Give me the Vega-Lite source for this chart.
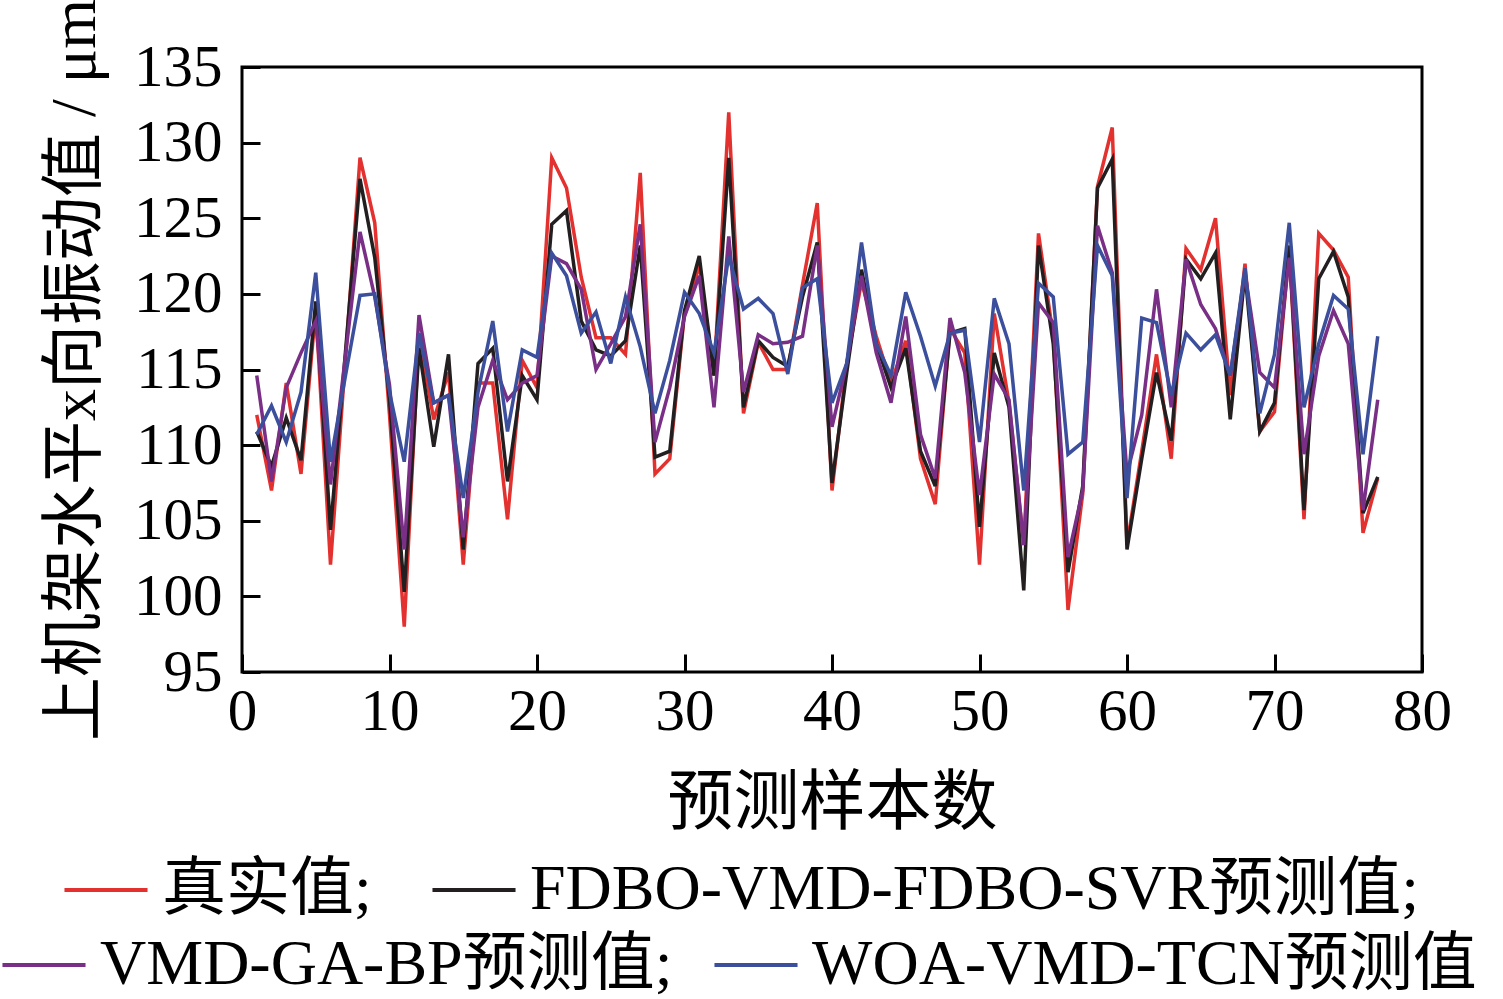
{
  "$schema": "https://vega.github.io/schema/vega-lite/v6.json",
  "autosize": "none",
  "padding": {"left": 242, "top": 67, "right": 81, "bottom": 327},
  "width": 1180,
  "height": 605,
  "data": {
    "values": [
      {"x": 1, "r": 112.0, "k": 110.9, "p": 114.6, "b": 110.7},
      {"x": 2, "r": 107.0, "k": 108.6, "p": 107.6, "b": 112.6},
      {"x": 3, "r": 114.1, "k": 111.8, "p": 113.8, "b": 110.2},
      {"x": 4, "r": 108.1, "k": 109.0, "p": 116.1, "b": 113.5},
      {"x": 5, "r": 119.0, "k": 119.5, "p": 118.2, "b": 121.4},
      {"x": 6, "r": 102.1, "k": 104.4, "p": 107.4, "b": 108.9},
      {"x": 7, "r": 115.5, "k": 116.0, "p": 115.8, "b": 114.5},
      {"x": 8, "r": 129.0, "k": 127.6, "p": 124.1, "b": 119.9},
      {"x": 9, "r": 124.7, "k": 122.4, "p": 119.8, "b": 120.0},
      {"x": 10, "r": 112.0, "k": 113.0, "p": 114.0, "b": 113.5},
      {"x": 11, "r": 98.0, "k": 100.3, "p": 103.1, "b": 108.9},
      {"x": 12, "r": 117.2, "k": 116.4, "p": 118.6, "b": 117.4},
      {"x": 13, "r": 111.7, "k": 109.9, "p": 112.8, "b": 112.8},
      {"x": 14, "r": 114.8, "k": 116.0, "p": 113.3, "b": 113.3},
      {"x": 15, "r": 102.1, "k": 103.1, "p": 103.9, "b": 106.5},
      {"x": 16, "r": 114.1, "k": 115.4, "p": 112.5, "b": 113.5},
      {"x": 17, "r": 114.1, "k": 116.4, "p": 115.6, "b": 118.2},
      {"x": 18, "r": 105.1, "k": 107.6, "p": 113.0, "b": 110.9},
      {"x": 19, "r": 115.6, "k": 114.6, "p": 114.1, "b": 116.3},
      {"x": 20, "r": 113.8, "k": 113.0, "p": 114.6, "b": 115.8},
      {"x": 21, "r": 129.0, "k": 124.6, "p": 122.5, "b": 122.7},
      {"x": 22, "r": 127.0, "k": 125.5, "p": 122.0, "b": 121.2},
      {"x": 23, "r": 121.1, "k": 118.2, "p": 120.3, "b": 117.4},
      {"x": 24, "r": 117.1, "k": 116.3, "p": 115.0, "b": 118.8},
      {"x": 25, "r": 117.1, "k": 115.9, "p": 116.7, "b": 115.4},
      {"x": 26, "r": 116.0, "k": 116.9, "p": 118.5, "b": 119.8},
      {"x": 27, "r": 128.0, "k": 123.2, "p": 124.6, "b": 116.5},
      {"x": 28, "r": 108.1, "k": 109.2, "p": 110.2, "b": 112.1},
      {"x": 29, "r": 109.1, "k": 109.6, "p": 113.8, "b": 115.6},
      {"x": 30, "r": 118.7, "k": 118.9, "p": 118.5, "b": 120.1},
      {"x": 31, "r": 121.9, "k": 122.5, "p": 121.2, "b": 118.7},
      {"x": 32, "r": 114.6, "k": 114.6, "p": 112.5, "b": 116.1},
      {"x": 33, "r": 132.0, "k": 129.0, "p": 123.8, "b": 122.5},
      {"x": 34, "r": 112.1, "k": 112.5, "p": 113.5, "b": 119.0},
      {"x": 35, "r": 116.8, "k": 116.9, "p": 117.3, "b": 119.7},
      {"x": 36, "r": 115.0, "k": 115.8, "p": 116.7, "b": 118.7},
      {"x": 37, "r": 115.0, "k": 115.2, "p": 116.8, "b": 114.7},
      {"x": 38, "r": 120.6, "k": 119.8, "p": 117.2, "b": 120.4},
      {"x": 39, "r": 126.0, "k": 123.4, "p": 123.2, "b": 121.0},
      {"x": 40, "r": 107.0, "k": 107.5, "p": 111.2, "b": 112.8},
      {"x": 41, "r": 115.4, "k": 114.8, "p": 115.4, "b": 115.4},
      {"x": 42, "r": 120.8, "k": 121.6, "p": 121.2, "b": 123.4},
      {"x": 43, "r": 117.2, "k": 116.7, "p": 116.1, "b": 116.7},
      {"x": 44, "r": 114.1, "k": 113.8, "p": 112.8, "b": 114.6},
      {"x": 45, "r": 116.9, "k": 116.4, "p": 118.5, "b": 120.1},
      {"x": 46, "r": 109.1, "k": 109.6, "p": 110.7, "b": 117.2},
      {"x": 47, "r": 106.1, "k": 107.3, "p": 107.8, "b": 113.9},
      {"x": 48, "r": 117.7, "k": 117.4, "p": 118.4, "b": 117.4},
      {"x": 49, "r": 116.1, "k": 117.7, "p": 114.8, "b": 117.6},
      {"x": 50, "r": 102.1, "k": 104.6, "p": 106.7, "b": 110.2},
      {"x": 51, "r": 118.7, "k": 116.1, "p": 114.7, "b": 119.7},
      {"x": 52, "r": 112.8, "k": 112.5, "p": 113.0, "b": 116.7},
      {"x": 53, "r": 103.4, "k": 100.4, "p": 103.4, "b": 107.0},
      {"x": 54, "r": 124.0, "k": 123.2, "p": 119.4, "b": 120.7},
      {"x": 55, "r": 117.2, "k": 116.7, "p": 118.1, "b": 119.8},
      {"x": 56, "r": 99.1, "k": 101.6, "p": 102.6, "b": 109.4},
      {"x": 57, "r": 106.8, "k": 107.3, "p": 107.0, "b": 110.2},
      {"x": 58, "r": 127.1, "k": 127.0, "p": 124.5, "b": 123.2},
      {"x": 59, "r": 131.0, "k": 128.9, "p": 121.4, "b": 121.2},
      {"x": 60, "r": 103.4, "k": 103.1, "p": 108.1, "b": 106.5},
      {"x": 61, "r": 109.6, "k": 109.1, "p": 112.0, "b": 118.4},
      {"x": 62, "r": 116.0, "k": 114.8, "p": 120.3, "b": 118.1},
      {"x": 63, "r": 109.1, "k": 110.3, "p": 112.5, "b": 113.3},
      {"x": 64, "r": 123.0, "k": 122.3, "p": 122.3, "b": 117.4},
      {"x": 65, "r": 121.6, "k": 121.0, "p": 119.3, "b": 116.3},
      {"x": 66, "r": 125.0, "k": 122.7, "p": 117.7, "b": 117.3},
      {"x": 67, "r": 113.3, "k": 111.7, "p": 114.6, "b": 114.6},
      {"x": 68, "r": 122.0, "k": 121.4, "p": 121.4, "b": 121.7},
      {"x": 69, "r": 110.9, "k": 110.9, "p": 114.8, "b": 112.1},
      {"x": 70, "r": 112.2, "k": 112.8, "p": 113.8, "b": 116.0},
      {"x": 71, "r": 122.9, "k": 123.2, "p": 122.4, "b": 124.7},
      {"x": 72, "r": 105.1, "k": 105.7, "p": 109.4, "b": 112.5},
      {"x": 73, "r": 124.0, "k": 121.0, "p": 115.9, "b": 116.7},
      {"x": 74, "r": 122.9, "k": 122.8, "p": 118.9, "b": 119.9},
      {"x": 75, "r": 121.1, "k": 119.8, "p": 116.7, "b": 119.0},
      {"x": 76, "r": 104.2, "k": 105.5, "p": 105.7, "b": 109.4},
      {"x": 77, "r": 107.8, "k": 107.9, "p": 113.0, "b": 117.2}
    ]
  },
  "transform": [{"fold": ["r", "k", "p", "b"], "as": ["series", "value"]}],
  "encoding": {
    "x": {
      "field": "x",
      "type": "quantitative",
      "scale": {"domain": [0, 80], "nice": false},
      "axis": {
        "values": [0, 10, 20, 30, 40, 50, 60, 70, 80],
        "title": "预测样本数",
        "labelPadding": 28,
        "titlePadding": 30,
        "titleFontSize": 66
      }
    },
    "y": {
      "field": "value",
      "type": "quantitative",
      "scale": {"domain": [95, 135], "nice": false, "zero": false},
      "axis": {
        "values": [95, 100, 105, 110, 115, 120, 125, 130, 135],
        "title": "上机架水平x向振动值 / μm",
        "labelPadding": 38,
        "titlePadding": 26,
        "titleFontSize": 64
      }
    }
  },
  "layer": [
    {
      "transform": [{"filter": {"field": "series", "oneOf": ["r", "k"]}}],
      "mark": {"type": "line", "strokeWidth": 3.5},
      "encoding": {
        "color": {
          "field": "series",
          "type": "nominal",
          "scale": {"domain": ["r", "k"], "range": ["#e2312f", "#231f20"]},
          "legend": {
            "orient": "none",
            "direction": "horizontal",
            "legendX": -180,
            "legendY": 779,
            "columnPadding": 52,
            "title": null,
            "labelExpr": "datum.value == 'r' ? '真实值;' : 'FDBO-VMD-FDBO-SVR预测值;'"
          }
        }
      }
    },
    {
      "transform": [{"filter": {"field": "series", "oneOf": ["p", "b"]}}],
      "mark": {"type": "line", "strokeWidth": 3.5},
      "encoding": {
        "color": {
          "field": "series",
          "type": "nominal",
          "scale": {"domain": ["p", "b"], "range": ["#7a2f86", "#3b4f9c"]},
          "legend": {
            "orient": "none",
            "direction": "horizontal",
            "legendX": -242,
            "legendY": 854,
            "columnPadding": 33,
            "title": null,
            "labelExpr": "datum.value == 'p' ? 'VMD-GA-BP预测值;' : 'WOA-VMD-TCN预测值'"
          }
        }
      }
    }
  ],
  "resolve": {"scale": {"color": "independent"}},
  "config": {
    "view": {"stroke": "#000000", "strokeWidth": 3},
    "font": "Liberation Serif",
    "axis": {
      "domain": false,
      "grid": false,
      "tickColor": "#000000",
      "tickSize": -18,
      "tickWidth": 3,
      "labelFont": "Liberation Serif",
      "labelFontSize": 59,
      "labelColor": "#000000",
      "labelFlush": false,
      "labelOverlap": false,
      "titleFont": "Liberation Serif, Noto Sans CJK SC",
      "titleFontWeight": "normal",
      "titleColor": "#000000"
    },
    "legend": {
      "padding": 0,
      "symbolType": "stroke",
      "symbolSize": 6900,
      "symbolStrokeWidth": 4,
      "labelFont": "Liberation Serif, Noto Sans CJK SC",
      "labelFontSize": 64,
      "labelColor": "#000000",
      "labelOffset": 12,
      "labelLimit": 1200
    }
  }
}
